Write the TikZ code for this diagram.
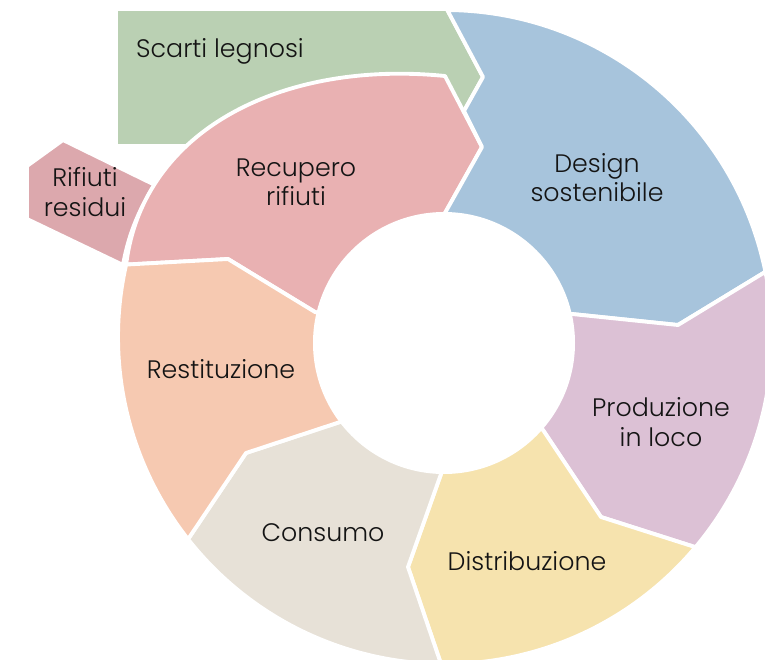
\documentclass[tikz,border=0pt]{standalone}
\usepackage{fontspec}
\setmainfont{Poppins}[UprightFont=* Light]
\usetikzlibrary{calc}
\definecolor{verde}{HTML}{BAD0B3}
\definecolor{azzurro}{HTML}{A7C4DC}
\definecolor{lilla}{HTML}{DCC1D5}
\definecolor{giallo}{HTML}{F6E3AE}
\definecolor{grigio}{HTML}{E7E1D7}
\definecolor{pesca}{HTML}{F6C9B1}
\definecolor{rosa}{HTML}{E9B1B2}
\definecolor{rosascuro}{HTML}{DCA8AD}
\begin{document}
\begin{tikzpicture}[x=0.02cm,y=-0.02cm,
    seg/.style={draw=white,line width=2.2pt,line join=round},
    lbl/.style={align=center,font=\fontsize{14.4}{16.6}\selectfont,text=black!92}]
      \useasboundingbox (0,0) rectangle (765,660);
      \clip (0,0) rectangle (765,660);

      \coordinate (oc) at (445,337);
      \coordinate (ic) at (444,343);

      \fill[verde,seg] (116,9) -- (447,9) -- (483,77) -- (464,111) -- (440,160)
        -- (215,160) -- (200,146) -- (116,146) -- cycle;
      \fill[rosascuro,seg] (63,140) -- (155,185) -- (150,193)
        .. controls (137,214) and (127.8,238) .. (123,265) -- (27,219) -- (27,166) -- cycle;
      \fill[rosa,seg] (oc) ++(192.8:327) .. controls (143,128) and (285,60) .. (445,76)
        -- (482,147) -- (445,213) -- (ic) -- (315,312) -- (228,259) -- cycle;
      \fill[azzurro,seg] (445,213) -- (482,147) -- (464,111) -- (483,77)
        -- ($(oc)+(-89.6:327)$) arc[start angle=-89.6,end angle=-11.5,radius=327]
        -- (678,325) -- (572,314) -- (ic) -- cycle;
      \fill[lilla,seg] (oc) ++(-11.5:327) arc[start angle=-11.5,end angle=40,radius=327]
        -- (601,517) -- (543,430) -- (ic) -- (572,314) -- (678,325) -- cycle;
      \fill[giallo,seg] (oc) ++(40:327) arc[start angle=40,end angle=90.7,radius=327]
        -- (408,567) -- (441,474) -- (ic) -- (543,430) -- (601,517) -- cycle;
      \fill[grigio,seg] (oc) ++(90.7:327) arc[start angle=90.7,end angle=141.8,radius=327]
        -- (246,453) -- (340,422) -- (ic) -- (441,474) -- (408,567) -- cycle;
      \fill[pesca,seg] (oc) ++(141.8:327) arc[start angle=141.8,end angle=192.8,radius=327]
        -- (228,259) -- (315,312) -- (ic) -- (340,422) -- (246,453) -- cycle;
      \fill[white] (ic) circle (131);

      \node[lbl] (scarti) at (220,51) {Scarti legnosi};
      \node[lbl] (recupero) at (296,182) {Recupero\\rifiuti};
      \node[lbl] (residui) at (85,192) {Rifiuti\\residui};
      \node[lbl] (design) at (597,178) {Design\\sostenibile};
      \node[lbl] (produzione) at (661,422) {Produzione\\in loco};
      \node[lbl] (distribuzione) at (527,561) {Distribuzione};
      \node[lbl] (consumo) at (323,533) {Consumo};
      \node[lbl] (restituzione) at (221,369) {Restituzione};
    \end{tikzpicture}
\end{document}
